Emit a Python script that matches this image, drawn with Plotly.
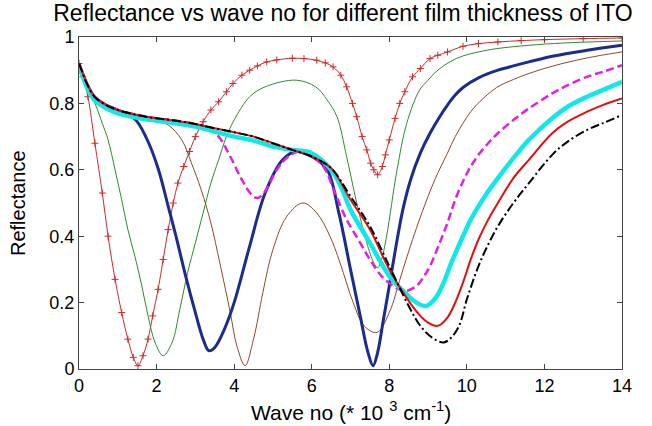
import plotly.graph_objects as go

# ---- data ----
x_redplus = [0, 0.1, 0.23, 0.41, 0.6, 0.75, 0.93, 1.1, 1.26, 1.4, 1.52, 1.65, 1.78, 1.9, 2.04, 2.17, 2.3, 2.43,
             2.55, 2.7, 2.85, 3.0, 3.2, 3.4, 3.6, 3.8, 3.97, 4.2, 4.4, 4.6, 4.84, 5.1, 5.5, 5.8, 6.13, 6.35, 6.55,
             6.75, 6.9, 7.05, 7.16, 7.3, 7.42, 7.52, 7.6, 7.7, 7.82, 7.9, 8.0, 8.15, 8.27, 8.4, 8.6, 8.8, 9.05,
             9.25, 9.5, 9.9, 10.3, 10.8, 11.4, 12.0, 13.0, 14.0]
y_redplus = [0.92, 0.88, 0.82, 0.68, 0.53, 0.40, 0.27, 0.17, 0.09, 0.035, 0.01, 0.04, 0.09, 0.16, 0.24, 0.33, 0.42, 0.50,
             0.56, 0.61, 0.655, 0.70, 0.745, 0.78, 0.805, 0.835, 0.86, 0.885, 0.90, 0.913, 0.925, 0.931, 0.936, 0.935,
             0.93, 0.922, 0.91, 0.885, 0.85, 0.80, 0.76, 0.70, 0.66, 0.62, 0.60, 0.585, 0.61, 0.645, 0.69, 0.755, 0.80,
             0.835, 0.88, 0.905, 0.935, 0.945, 0.955, 0.972, 0.98, 0.985, 0.989, 0.992, 0.995, 0.997]

x_green = [0, 0.1, 0.23, 0.41, 0.6, 0.75, 0.93, 1.1, 1.26, 1.44, 1.62, 1.78, 1.96, 2.17, 2.4, 2.6, 2.8, 3.0, 3.2,
           3.4, 3.6, 3.8, 4.0, 4.4, 4.8, 5.6, 6.1, 6.4, 6.65, 6.9, 7.16, 7.42, 7.6, 7.7, 7.8, 7.93, 8.2, 8.45,
           8.78, 9.0, 9.2, 9.56, 9.9, 10.3, 10.77, 11.6, 12.5, 14.0]
y_green = [0.92, 0.88, 0.835, 0.80, 0.74, 0.69, 0.60, 0.51, 0.42, 0.34, 0.25, 0.16, 0.08, 0.04, 0.08, 0.18, 0.29, 0.38, 0.47,
           0.56, 0.63, 0.70, 0.75, 0.82, 0.85, 0.87, 0.85, 0.81, 0.76, 0.64, 0.50, 0.38, 0.32, 0.305, 0.33, 0.40, 0.60, 0.74,
           0.84, 0.87, 0.895, 0.925, 0.943, 0.955, 0.965, 0.975, 0.982, 0.988]

x_navy = [0, 0.2, 0.4, 0.7, 1.0, 1.3, 1.5, 1.8, 2.05, 2.3, 2.5, 2.75, 3.0, 3.2, 3.35, 3.5, 3.75, 4.0, 4.4, 4.8,
          5.25, 5.6, 6.0, 6.4, 6.7, 7.0, 7.25, 7.45, 7.58, 7.7, 7.85, 8.0, 8.1, 8.35, 8.55, 8.8, 9.05, 9.3, 9.5,
          9.7, 9.9, 10.3, 10.8, 11.2, 11.6, 12.2, 13.1, 14.0]
y_navy = [0.92, 0.86, 0.82, 0.795, 0.78, 0.765, 0.745, 0.68, 0.60, 0.49, 0.40, 0.28, 0.17, 0.09, 0.055, 0.065, 0.12, 0.20,
          0.37, 0.53, 0.63, 0.655, 0.64, 0.60, 0.47, 0.30, 0.16, 0.05, 0.01, 0.05, 0.15, 0.25, 0.32, 0.48, 0.57, 0.65,
          0.71, 0.76, 0.795, 0.825, 0.848, 0.877, 0.90, 0.913, 0.925, 0.942, 0.96, 0.975]

x_brown = [0, 0.2, 0.4, 0.7, 1.0, 1.5, 1.9, 2.3, 2.65, 2.9, 3.15, 3.4, 3.63, 3.9, 4.07, 4.28, 4.5, 4.74, 5.0,
           5.36, 5.77, 6.13, 6.47, 6.73, 7.07, 7.35, 7.68, 8.0, 8.3, 8.6, 9.0, 9.25, 9.5, 9.7, 9.9, 10.1, 10.33,
           10.77, 11.2, 11.6, 12.2, 13.1, 14.0]
y_brown = [0.92, 0.86, 0.82, 0.795, 0.78, 0.765, 0.755, 0.735, 0.69, 0.62, 0.54, 0.44, 0.32, 0.17, 0.07, 0.01, 0.09, 0.23, 0.36,
           0.46, 0.50, 0.47, 0.40, 0.32, 0.20, 0.13, 0.11, 0.17, 0.28, 0.39, 0.52, 0.59, 0.65, 0.70, 0.74, 0.775, 0.805,
           0.848, 0.872, 0.89, 0.912, 0.937, 0.955]

x_magenta = [0, 0.2, 0.4, 0.7, 1.0, 1.5, 2.0, 2.5, 3.0, 3.3, 3.6, 3.9, 4.2, 4.45, 4.6, 4.8, 5.1, 5.4, 5.7, 6.0,
             6.3, 6.6, 6.9, 7.2, 7.5, 7.8, 8.1, 8.4, 8.7, 8.9, 9.05, 9.3, 9.5, 9.7, 9.9, 10.1, 10.3, 10.55, 10.8,
             11.2, 11.6, 12.2, 12.6, 13.1, 13.5, 14.0]
y_magenta = [0.92, 0.86, 0.82, 0.795, 0.78, 0.765, 0.755, 0.748, 0.738, 0.725, 0.70, 0.64, 0.57, 0.525, 0.515, 0.535, 0.60,
             0.64, 0.655, 0.64, 0.61, 0.53, 0.45, 0.39, 0.33, 0.28, 0.25, 0.235, 0.25, 0.28, 0.31, 0.38, 0.44, 0.51,
             0.565, 0.61, 0.645, 0.68, 0.71, 0.75, 0.785, 0.83, 0.855, 0.88, 0.895, 0.915]

x_cyan = [0, 0.1, 0.2, 0.4, 0.7, 1.0, 1.5, 2.0, 2.5, 3.0, 3.5, 4.0, 4.5, 5.0, 5.5, 6.0, 6.5, 6.75, 7.0, 7.5,
          8.0, 8.4, 8.7, 8.95, 9.2, 9.4, 9.6, 9.9, 10.1, 10.3, 10.55, 10.8, 11.2, 11.6, 12.2, 12.6, 13.1, 13.5, 14.0]
y_cyan = [0.91, 0.88, 0.85, 0.81, 0.785, 0.77, 0.757, 0.748, 0.74, 0.73, 0.715, 0.70, 0.688, 0.67, 0.66, 0.65, 0.60, 0.55,
          0.48, 0.38, 0.28, 0.23, 0.20, 0.19, 0.215, 0.26, 0.32, 0.40, 0.45, 0.49, 0.535, 0.575, 0.635, 0.69, 0.755,
          0.79, 0.82, 0.84, 0.865]

x_red = [0, 0.1, 0.2, 0.4, 0.7, 1.0, 1.5, 2.0, 2.5, 3.0, 3.5, 4.0, 4.5, 5.0, 5.5, 6.0, 6.5, 7.0, 7.5, 8.0,
         8.5, 8.8, 9.0, 9.25, 9.5, 9.7, 9.9, 10.1, 10.3, 10.55, 10.8, 11.2, 11.6, 12.2, 12.6, 13.1, 13.5, 14.0]
y_red = [0.92, 0.89, 0.86, 0.82, 0.795, 0.78, 0.765, 0.755, 0.748, 0.738, 0.725, 0.713, 0.70, 0.68, 0.66, 0.64, 0.605, 0.51,
         0.42, 0.30, 0.205, 0.16, 0.14, 0.13, 0.155, 0.20, 0.26, 0.33, 0.39, 0.45, 0.50, 0.575, 0.63, 0.71, 0.745,
         0.775, 0.795, 0.815]

x_black = [0, 0.1, 0.2, 0.4, 0.7, 1.0, 1.5, 2.0, 2.5, 3.0, 3.5, 4.0, 4.5, 5.0, 5.5, 6.0, 6.5, 7.0, 7.5, 8.0,
           8.5, 8.8, 9.1, 9.4, 9.6, 9.8, 10.0, 10.3, 10.55, 10.8, 11.2, 11.6, 12.2, 12.6, 13.1, 13.5, 14.0]
y_black = [0.92, 0.89, 0.86, 0.82, 0.795, 0.78, 0.765, 0.755, 0.748, 0.738, 0.725, 0.713, 0.70, 0.68, 0.66, 0.64, 0.605, 0.52,
           0.43, 0.31, 0.19, 0.13, 0.095, 0.08, 0.095, 0.13, 0.21, 0.31, 0.375, 0.43, 0.50, 0.56, 0.645, 0.685, 0.72,
           0.74, 0.765]

x_ticks = [0, 2, 4, 6, 8, 10, 12, 14]
y_ticks = [0, 0.2, 0.4, 0.6, 0.8, 1]
y_tick_labels = ["0", "0.2", "0.4", "0.6", "0.8", "1"]

title_text = "Reflectance vs wave no for different film thickness of ITO"
x_title = "Wave no (* 10 <sup>3</sup> cm<sup>-1</sup>)"
y_title = "Reflectance"

FONT = "Liberation Sans, Arial, sans-serif"

fig = go.Figure()

def add(x, y, color, width, dash="solid", marker=None):
    kw = dict(x=x, y=y, mode="lines", line=dict(color=color, width=width, dash=dash, shape="spline", smoothing=1.0),
              showlegend=False, hoverinfo="skip")
    if marker:
        kw["mode"] = "lines+markers"
        kw["marker"] = marker
    fig.add_trace(go.Scatter(**kw))

add(x_redplus, y_redplus, "#cc2a2a", 1,
    marker=dict(symbol="cross-thin", size=5, line=dict(color="#cc2a2a", width=1)))
add(x_green, y_green, "#2f8a2f", 1)
add(x_brown, y_brown, "#8a4a2a", 1)
add(x_navy, y_navy, "#1c2c8c", 3)
add(x_magenta, y_magenta, "#e020e0", 2.5, dash="8px,4px")
add(x_cyan, y_cyan, "#10e8e8", 4.5)
add(x_red, y_red, "#e01010", 2)
add(x_black, y_black, "#000000", 2, dash="9px,3px,2px,3px")

axis_common = dict(showgrid=False, zeroline=False, showline=True, linecolor="#444444", linewidth=1,
                   mirror="ticks", ticks="inside", ticklen=5, tickcolor="#444444",
                   tickfont=dict(family=FONT, size=18, color="#000000"))

fig.update_layout(
    width=652, height=426,
    margin=dict(l=79, r=30, t=37, b=57),
    paper_bgcolor="white", plot_bgcolor="white",
    title=dict(text=title_text, x=343 / 652, xref="container", xanchor="center",
               y=1 - 13 / 426, yref="container", yanchor="middle",
               font=dict(family=FONT, size=23, color="#000000")),
    xaxis=dict(range=[0, 14], tickvals=x_ticks, **axis_common),
    yaxis=dict(range=[0, 1], tickvals=y_ticks, ticktext=y_tick_labels, **axis_common),
    annotations=[
        dict(text=x_title, xref="paper", yref="paper", x=0.5, y=0, yshift=-42, yanchor="middle",
             showarrow=False, font=dict(family=FONT, size=21, color="#000000")),
        dict(text=y_title, xref="paper", yref="paper", x=0, xshift=-61, y=0.5, textangle=-90,
             xanchor="center", yanchor="middle",
             showarrow=False, font=dict(family=FONT, size=20, color="#000000")),
    ],
)

fig.write_html("out.html")
